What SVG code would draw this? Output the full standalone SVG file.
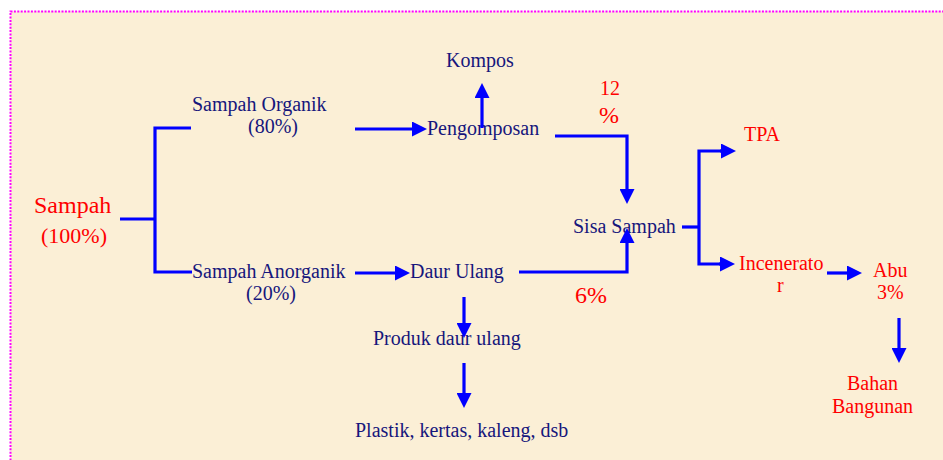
<svg xmlns="http://www.w3.org/2000/svg" width="943" height="460" viewBox="0 0 943 460">
<defs>
<style>
.t{font-family:"Liberation Serif","Times New Roman",serif;font-size:20px;fill:#16167C}
.r{font-family:"Liberation Serif","Times New Roman",serif;font-size:20px;fill:#FF0000}
.c{fill:none;stroke:#0000FF;stroke-width:3.2}
</style>
<marker id="ah" markerWidth="15" markerHeight="15" refX="0" refY="7.5" orient="auto" markerUnits="userSpaceOnUse">
<path d="M0,0 L15,7.5 L0,15 z" fill="#0000FF"/>
</marker>
</defs>
<rect x="0" y="0" width="943" height="460" fill="#FFFFFF"/>
<rect x="10.5" y="11.5" width="960" height="480" fill="#FBEFD6" stroke="#FF00FF" stroke-width="2" stroke-dasharray="2 1.4"/>

<g id="sampah"><text class="r" x="34" y="213" style="font-size:24px">Sampah</text><text class="r" x="41" y="243" style="font-size:22px">(100%)</text></g>
<g id="organik"><text class="t" x="192" y="111">Sampah Organik</text><text class="t" x="248" y="133">(80%)</text></g>
<g id="anorganik"><text class="t" x="192" y="278">Sampah Anorganik</text><text class="t" x="246" y="300">(20%)</text></g>
<g id="kompos"><text class="t" x="446" y="67">Kompos</text></g>
<g id="pengomposan"><text class="t" x="427" y="135">Pengomposan</text></g>
<g id="pct12"><text class="r" x="600" y="95">12</text><text class="r" x="599" y="123" style="font-size:24px">%</text></g>
<g id="daur"><text class="t" x="410" y="278">Daur Ulang</text></g>
<g id="pct6"><text class="r" x="575" y="303" style="font-size:24px">6%</text></g>
<g id="sisa"><text class="t" x="573" y="233">Sisa Sampah</text></g>
<g id="tpa"><text class="r" x="744" y="141">TPA</text></g>
<g id="incenerator"><text class="r" x="739" y="270">Incenerato</text><text class="r" x="777" y="292">r</text></g>
<g id="abu"><text class="r" x="873" y="277">Abu</text><text class="r" x="877" y="299">3%</text></g>
<g id="bahan"><text class="r" x="847" y="390">Bahan</text><text class="r" x="832" y="413">Bangunan</text></g>
<g id="produk"><text class="t" x="373" y="345">Produk daur ulang</text></g>
<g id="plastik"><text class="t" x="355" y="437">Plastik, kertas, kaleng, dsb</text></g>

<g id="connectors">
<path class="c" d="M120,219 H155"/>
<path class="c" d="M191,128 H155 V272 H192"/>
<path class="c" d="M355,129 H412" marker-end="url(#ah)"/>
<path class="c" d="M482,128 V98" marker-end="url(#ah)"/>
<path class="c" d="M555,136 H627 V189" marker-end="url(#ah)"/>
<path class="c" d="M355,273 H395" marker-end="url(#ah)"/>
<path class="c" d="M519,272 H627 V243" marker-end="url(#ah)"/>
<path class="c" d="M682,227 H699"/>
<path class="c" d="M721,151 H699 V264 H720"/>
<path class="c" d="M720,151 H721" marker-end="url(#ah)"/>
<path class="c" d="M719,264 H720" marker-end="url(#ah)"/>
<path class="c" d="M827,273 H847" marker-end="url(#ah)"/>
<path class="c" d="M899,318 V348" marker-end="url(#ah)"/>
<path class="c" d="M464,297 V323" marker-end="url(#ah)"/>
<path class="c" d="M464,363 V393" marker-end="url(#ah)"/>
</g>
</svg>
